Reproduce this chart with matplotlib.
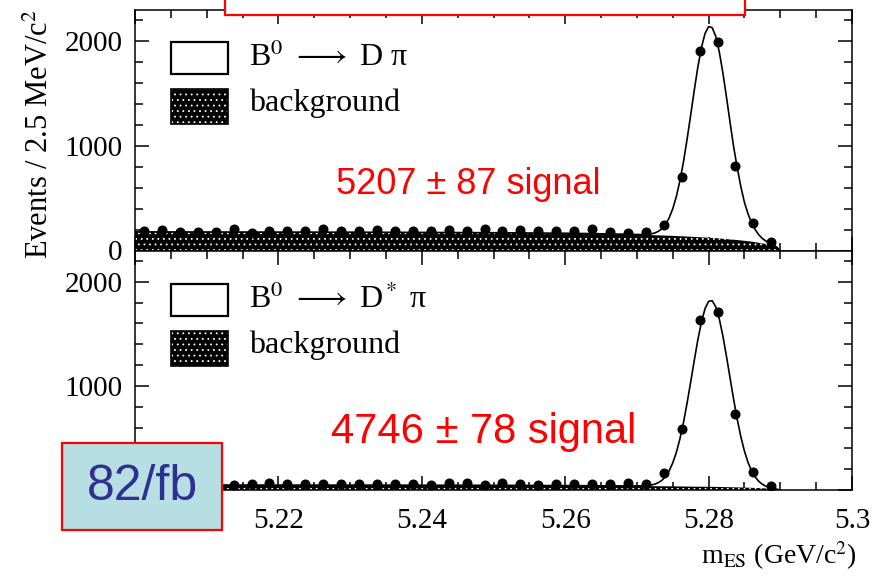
import matplotlib
matplotlib.use("Agg")
import matplotlib.pyplot as plt
from matplotlib.patches import Rectangle
from matplotlib.ticker import MultipleLocator

plt.rcParams['font.family'] = ['Liberation Serif', 'DejaVu Serif']
plt.rcParams['mathtext.fontset'] = 'stix'
plt.rcParams['hatch.linewidth'] = 0.6

# ---------------- data ----------------
bin_centers = [5.20125, 5.20375, 5.20625, 5.20875, 5.21125, 5.21375, 5.21625, 5.21875,
               5.22125, 5.22375, 5.22625, 5.22875, 5.23125, 5.23375, 5.23625, 5.23875,
               5.24125, 5.24375, 5.24625, 5.24875, 5.25125, 5.25375, 5.25625, 5.25875,
               5.26125, 5.26375, 5.26625, 5.26875, 5.27125, 5.27375, 5.27625, 5.27875,
               5.28125, 5.28375, 5.28625, 5.28875]
top_counts = [185, 195, 173, 173, 173, 201, 168, 185, 185, 185, 201, 185, 185, 195, 185, 185,
              185, 195, 185, 201, 185, 195, 185, 185, 185, 201, 173, 163, 173, 240, 704, 1908,
              1997, 809, 265, 77]
bottom_counts = [55, 60, 52, 58, 54, 52, 60, 64, 57, 60, 60, 60, 57, 60, 60, 55,
                 52, 64, 68, 52, 64, 57, 52, 57, 57, 55, 57, 68, 55, 163, 587, 1628,
                 1707, 734, 170, 40]

curve_x = [5.200, 5.210, 5.220, 5.230, 5.240, 5.250, 5.260, 5.265, 5.268,
           5.270, 5.271, 5.272, 5.2725, 5.273, 5.2735, 5.274, 5.2745, 5.275,
           5.2755, 5.276, 5.2765, 5.277, 5.2775, 5.278, 5.2785, 5.279, 5.2795,
           5.280, 5.2805, 5.281, 5.2815, 5.282, 5.2825, 5.283, 5.2835, 5.284,
           5.2845, 5.285, 5.2855, 5.286, 5.2865, 5.287, 5.2875, 5.288, 5.2885,
           5.289, 5.2895, 5.290]
top_curve = [178, 177, 176, 175, 173, 170, 165, 160, 156,
             153, 153, 159, 168, 183, 210, 251, 312, 399,
             516, 667, 850, 1064, 1296, 1532, 1754, 1941, 2075,
             2141, 2131, 2047, 1896, 1695, 1464, 1222, 988, 790,
             610, 460, 350, 265, 200, 150, 115, 90, 70,
             52, 33, 0]
bottom_curve = [48, 48, 47, 47, 46, 45, 42, 40, 39,
                39, 40, 48, 56, 71, 94, 130, 184, 260,
                361, 491, 650, 835, 1036, 1244, 1443, 1613, 1741,
                1812, 1818, 1759, 1641, 1477, 1281, 1073, 867, 677,
                511, 373, 265, 183, 125, 83, 55, 36, 24,
                17, 8, 0]

bkg_x = [5.200, 5.210, 5.220, 5.230, 5.240, 5.250, 5.260, 5.265, 5.270, 5.275,
         5.278, 5.281, 5.284, 5.286, 5.288, 5.289, 5.2895, 5.290]
top_bkg = [178, 177, 176, 175, 173, 170, 165, 160, 152, 140, 130, 118, 100, 85, 62, 45, 30, 0]
bottom_bkg = [48, 48, 47, 47, 46, 45, 42, 40, 38, 35, 32, 30, 25, 21, 15, 10, 6, 0]

xtick_vals = [5.20, 5.22, 5.24, 5.26, 5.28, 5.30]
xtick_labels = ["", "5.22", "5.24", "5.26", "5.28", "5.3"]
ytick_vals = [0, 1000, 2000]
top_ytick_labels = ["0", "1000", "2000"]
bottom_ytick_labels = ["", "1000", "2000"]

top_legend = [r"B$^0$ $\longrightarrow$ D π", "background"]
bottom_legend = [r"B$^0$ $\longrightarrow$ D$^*$ π", "background"]
top_yield = "5207 ± 87 signal"
bottom_yield = "4746 ± 78 signal"
lumi_text = "82/fb"

# ---------------- figure ----------------
W, H = 872, 578
fig = plt.figure(figsize=(W / 100, H / 100), dpi=100)

def fx(px):
    return px / W

def fy(py):
    return (H - py) / H

ax_top = fig.add_axes([fx(135), fy(250.5), fx(852) - fx(135), fy(10) - fy(250.5)])
ax_bot = fig.add_axes([fx(135), fy(490), fx(852) - fx(135), fy(250.5) - fy(490)])

panels = [
    (ax_top, top_counts, top_curve, top_bkg, top_legend, top_ytick_labels, top_yield, 26, (468, 184)),
    (ax_bot, bottom_counts, bottom_curve, bottom_bkg, bottom_legend, bottom_ytick_labels, bottom_yield, 30, (484, 432)),
]

for ax, counts, curve, bkg, leg, ylabels, ytxt, ysize, ypos in panels:
    ax.fill_between(bkg_x, 0, bkg, facecolor='black', edgecolor='white',
                    hatch='...', linewidth=0, zorder=2)
    ax.plot(curve_x, curve, color='black', lw=1.2, zorder=3)
    ax.plot(bin_centers, counts, 'o', color='black', ms=6.2, zorder=4)
    ax.set_xlim(5.2, 5.3)
    ax.set_ylim(0, 2300)
    ax.xaxis.set_major_locator(MultipleLocator(0.02))
    ax.xaxis.set_minor_locator(MultipleLocator(0.005))
    ax.set_yticks(ytick_vals)
    ax.set_yticklabels(ylabels)
    ax.yaxis.set_minor_locator(MultipleLocator(200))
    ax.tick_params(which='both', direction='in', top=True, right=True,
                   labelsize=21, width=1.1)
    ax.tick_params(which='major', length=10)
    ax.tick_params(which='minor', length=5.5)
    ax.tick_params(axis='y', pad=9)
    for s in ax.spines.values():
        s.set_linewidth(1.1)

    # legend drawn manually (pixel coordinates of the reference)
    base = 0 if ax is ax_top else 242
    y1a, y1b = 42 + base, 74 + base
    y2a, y2b = 89 + base, 124 + base
    fig.add_artist(Rectangle((fx(171), fy(y1b)), fx(228) - fx(171), fy(y1a) - fy(y1b),
                             transform=fig.transFigure, facecolor='white',
                             edgecolor='black', lw=1.6, zorder=5))
    fig.add_artist(Rectangle((fx(171), fy(y2b)), fx(228) - fx(171), fy(y2a) - fy(y2b),
                             transform=fig.transFigure, facecolor='black',
                             edgecolor='white', hatch='...', lw=0, zorder=5))
    fig.add_artist(Rectangle((fx(171), fy(y2b)), fx(228) - fx(171), fy(y2a) - fy(y2b),
                             transform=fig.transFigure, facecolor='none',
                             edgecolor='black', lw=1.2, zorder=5))
    fig.text(fx(249), fy((y1a + y1b) / 2), leg[0], fontsize=23, va='center', ha='left')
    fig.text(fx(249), fy((y2a + y2b) / 2) + 0.006, leg[1], fontsize=23, va='center', ha='left')

    fig.text(fx(ypos[0]), fy(ypos[1]), ytxt, fontsize=ysize, color='red',
             family=['Liberation Sans', 'DejaVu Sans'], ha='center', va='center')

ax_top.tick_params(axis='x', labelbottom=False)
ax_bot.set_xticks(xtick_vals)
ax_bot.set_xticklabels(xtick_labels)
ax_bot.tick_params(axis='x', pad=13)

# axis titles
fig.text(fx(40), fy(134), r"Events / 2.5 MeV/c$^2$", rotation=90, fontsize=22,
         ha='center', va='center')
fig.text(fx(857), fy(556), r"m$_{\mathrm{ES}}$ (GeV/c$^2$)", fontsize=20,
         ha='right', va='center')

# red-framed box at the top (cut off)
fig.add_artist(Rectangle((fx(225), fy(15)), fx(745) - fx(225), fy(-20) - fy(15),
                         transform=fig.transFigure, facecolor='white',
                         edgecolor='red', lw=1.6, zorder=10))

# luminosity box
fig.add_artist(Rectangle((fx(62), fy(530)), fx(222) - fx(62), fy(443) - fy(530),
                         transform=fig.transFigure, facecolor='#b7dee3',
                         edgecolor='red', lw=1.6, zorder=10))
fig.text(fx(142), fy(487), lumi_text, fontsize=36, color='#2e3192',
         family=['Liberation Sans', 'DejaVu Sans'], ha='center', va='center', zorder=11)

fig.savefig('out.png', dpi=100)
